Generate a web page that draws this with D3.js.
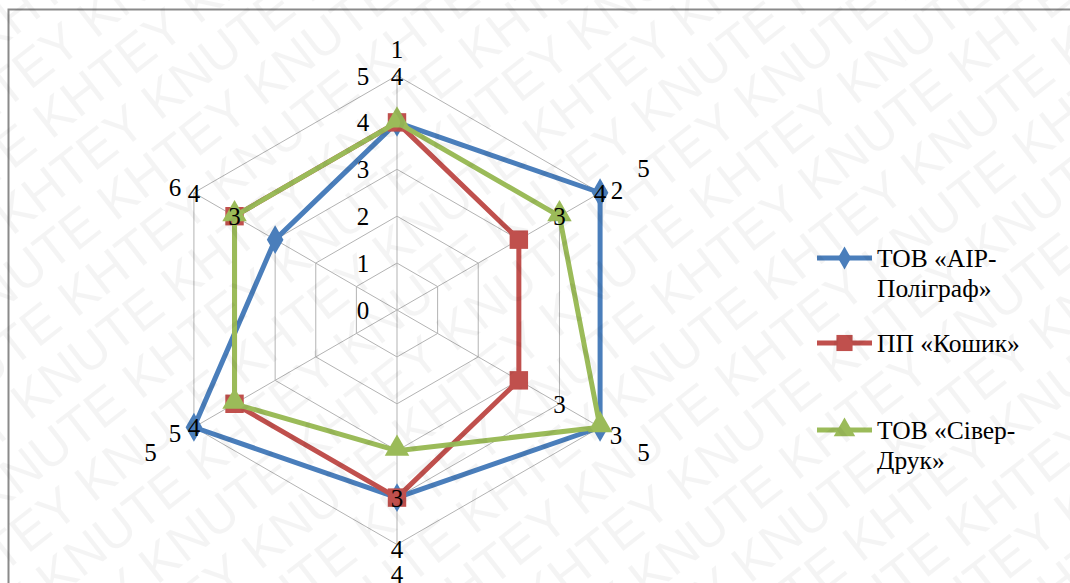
<!DOCTYPE html>
<html><head><meta charset="utf-8">
<style>
html,body{margin:0;padding:0;background:#fff;}
#pre{position:absolute;left:0;top:0;font-family:"Liberation Serif";font-size:25px;color:rgba(0,0,0,0);pointer-events:none;}
#c{position:absolute;left:0;top:0;}
</style>
<script src="https://cdn.jsdelivr.net/npm/d3@7"></script>
</head><body>
<div id="pre">ТОВ «АІР-Поліграф» ПП «Кошик» 0123456789</div>
<svg id="c" width="1070" height="583"></svg>
<script>
// ---- data ----
const categories = ["1","2","3","4","5","6"];
const ticks = [0,1,2,3,4,5];
const seriesNames = ["ТОВ «АІР-Поліграф»","ПП «Кошик»","ТОВ «Сівер-Друк»"];
const legendLines = [["ТОВ «АІР-","Поліграф»"],["ПП «Кошик»"],["ТОВ «Сівер-","Друк»"]];
const airValues   = [4,5,5,4,5,3];
const koshykValues= [4,3,3,4,4,4];
const siverValues = [4,4,5,3,4,4];
// data-label annotations: axis index, value, text
const labelAxis  = [0,1,1,2,3,3,4,5,5,1,2,4];
const labelValue = [5,5,4,4,4,5.1,5,5,4,6.07,6.07,6.07];
const labelText  = ["4","4","3","3","3","4","4","4","3","5","5","5"];

const colors = ["#4A7EBB","#C0504D","#9BBB59"];
const shapes = [d3.symbolDiamond, d3.symbolSquare, d3.symbolTriangle];
const allValues = [airValues, koshykValues, siverValues];

const svg = d3.select("#c");
const cx = 397, cy = 310;
const r = d3.scaleLinear().domain([0,5]).range([0,234.5]);
const ang = d3.scaleLinear().domain([0,categories.length]).range([0,2*Math.PI]);
const px = (i,v)=> cx + r(v)*Math.sin(ang(i));
const py = (i,v)=> cy - r(v)*Math.cos(ang(i));
function serif(sel, size){
  return sel.attr("font-size",size||25).style("font-family",'"Liberation Serif"').classed("sf",true);
}

// border
svg.append("rect").attr("x",8.5).attr("y",9.5).attr("width",1200).attr("height",700)
  .attr("fill","none").attr("stroke","#8a8a8a").attr("stroke-width",2);

// grid
const g = svg.append("g");
ticks.filter(t=>t>0).forEach(t=>{
  g.append("path")
   .attr("d", d3.lineRadial().angle((d,i)=>ang(i)).radius(()=>r(t)).curve(d3.curveLinearClosed)(categories))
   .attr("transform",`translate(${cx},${cy})`)
   .attr("fill","none").attr("stroke","#b3b3b3").attr("stroke-width",1);
});
categories.forEach((c,i)=>{
  g.append("line").attr("x1",cx).attr("y1",cy).attr("x2",px(i,5)).attr("y2",py(i,5))
   .attr("stroke","#b3b3b3").attr("stroke-width",1);
});

// tick labels
ticks.forEach(t=>{
  serif(svg.append("text")).attr("x",cx-34).attr("y",cy-r(t)+9).attr("text-anchor","middle").text(t);
});

// series
allValues.forEach((vals,s)=>{
  const sg = svg.append("g");
  sg.append("path")
   .attr("d", d3.lineRadial().angle((d,i)=>ang(i)).radius(d=>r(d)).curve(d3.curveLinearClosed)(vals))
   .attr("transform",`translate(${cx},${cy})`)
   .attr("fill","none").attr("stroke",colors[s]).attr("stroke-width",5).attr("stroke-linejoin","round");
  const size = [240,340,260][s];
  sg.selectAll("path.m").data(vals).join("path").attr("class","m")
   .attr("d", d3.symbol().type(shapes[s]).size(size))
   .attr("transform",(d,i)=>`translate(${px(i,d)},${py(i,d)+(s===2?-2:0)})`)
   .attr("fill",colors[s]);
});

// category labels
const catOff = [[0,-27],[17,-3],[16,8],[0,29],[-19,6],[-19,-6]];
categories.forEach((c,i)=>{
  serif(svg.append("text")).attr("x",px(i,5)+catOff[i][0]).attr("y",py(i,5)+catOff[i][1]+9)
    .attr("text-anchor","middle").text(c);
});

// data labels
labelText.forEach((t,k)=>{
  serif(svg.append("text")).attr("x",px(labelAxis[k],labelValue[k]))
    .attr("y",py(labelAxis[k],labelValue[k])+9).attr("text-anchor","middle").text(t);
});

// legend
const legY = [258,343,430];
seriesNames.forEach((n,s)=>{
  svg.append("line").attr("x1",817).attr("x2",872).attr("y1",legY[s]).attr("y2",legY[s])
    .attr("stroke",colors[s]).attr("stroke-width",5);
  svg.append("path").attr("d",d3.symbol().type(shapes[s]).size([150,260,200][s])())
    .attr("transform",`translate(844.5,${legY[s]})`).attr("fill",colors[s]);
  legendLines[s].forEach((t,j)=>{
    serif(svg.append("text"),25.5).attr("x",877).attr("y",legY[s]+9+j*30).text(t);
  });
});

// watermark (faint, as in the source image)
const wm = svg.append("g").attr("transform","rotate(-38 535 290)")
  .attr("fill","#000").attr("fill-opacity",0.045).style("pointer-events","none");
const rowStr = d3.range(10).map(()=> "KNUTE KHTEY").join(" ");
d3.range(-10,13).forEach(k=>{
  wm.append("text").style("font-family",'"Liberation Sans"').attr("font-size",52)
    .attr("x",-700 + (k%2)*90).attr("y",290 + k*52).text(rowStr);
});

// make sure the serif face is applied once it has been loaded
if (document.fonts && document.fonts.load) {
  document.fonts.load('25px "Liberation Serif"', 'ТОВ0123').then(()=>{
    svg.selectAll("text.sf").style("font-family",'"Liberation Serif", serif');
  });
}
</script>
</body></html>
